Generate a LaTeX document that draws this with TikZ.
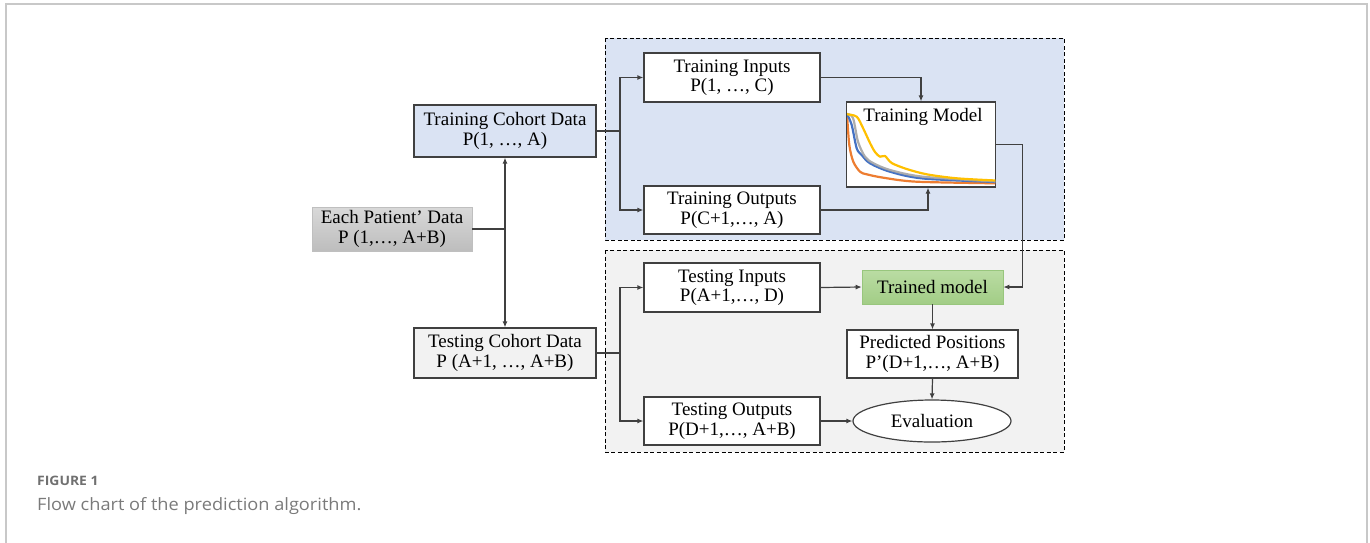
\documentclass[tikz,border=0pt]{standalone}
\usepackage{fontspec}
\setmainfont{Liberation Serif}
\newfontfamily\capfont[FakeStretch=1.07]{Open Sans}
\usetikzlibrary{arrows.meta,shapes.geometric,calc}

\definecolor{trainblue}{HTML}{DAE3F3}
\definecolor{testgray}{HTML}{F2F2F2}
\definecolor{edge}{HTML}{404040}
\definecolor{framegray}{HTML}{C8C8C8}
\definecolor{capgray}{HTML}{707070}
\definecolor{captextgray}{HTML}{7A7A7A}
\definecolor{greentop}{HTML}{BADCA3}
\definecolor{greenbottom}{HTML}{A2CD86}
\definecolor{greenedge}{HTML}{98C67D}
\definecolor{patienttop}{HTML}{D9D9D9}
\definecolor{patientbottom}{HTML}{BDBDBD}
\definecolor{curveyellow}{HTML}{FFC000}
\definecolor{curvegray}{HTML}{A5A5A5}
\definecolor{curveblue}{HTML}{4472C4}
\definecolor{curveorange}{HTML}{ED7D31}

\begin{document}
\begin{tikzpicture}[x=1pt,y=-1pt,
  boxtext/.style={font=\fontsize{19}{19.5}\selectfont, align=center, text=black, inner sep=0pt},
  box/.style={boxtext, draw=edge, line width=1.2pt, fill=white},
  conn/.style={draw=edge, line width=1.2pt},
  arr/.style={conn, -{Latex[length=6pt,width=5pt]}},
  region/.style={draw=black, line width=0.9pt, dash pattern=on 4pt off 2.5pt},
  curve/.style={line width=2.2pt, line join=round, line cap=round},
]
\useasboundingbox (0,0) rectangle (1370,542);

% outer frame
\draw[framegray, line width=1.6pt] (6,545) |- (1367,4) -- (1367,545);

% dashed regions
\path[region, fill=trainblue] (605,38) rectangle (1064,240);
\path[region, fill=testgray] (605,250) rectangle (1064,452);

% source and cohort boxes
\node[boxtext, minimum width=160pt, minimum height=44pt,
      top color=patienttop, bottom color=patientbottom, draw=gray!50, line width=0.6pt]
      (patient) at (392,229) {Each Patient’ Data\\P (1,…, A+B)};
\node[box, fill=trainblue, minimum width=182pt, minimum height=52pt]
      (traincohort) at (505,131) {Training Cohort Data\\P(1, …, A)};
\node[box, fill=testgray, minimum width=182pt, minimum height=50pt]
      (testcohort) at (505,353) {Testing Cohort Data\\P (A+1, …, A+B)};

% training branch
\node[box, minimum width=176pt, minimum height=49pt] (trainin) at (732,77.5) {Training Inputs\\P(1, …, C)};
\node[box, minimum width=176pt, minimum height=48pt] (trainout) at (732,210) {Training Outputs\\P(C+1,…, A)};
\node[box, minimum width=149.5pt, minimum height=85pt] (trainmodel) at (921,144.5) {};

% loss curves inside the training model box
\begin{scope}
  \clip (847.2,102.6) rectangle (995.3,186.4);
  \draw[curve, curveorange] plot[smooth, tension=0.5] coordinates {
    (847,114) (849.3,145) (853.3,161.7) (860,171.7) (866.7,174.3) (883.3,177.7) (916.7,181.7) (996,183.3)};
  \draw[curve, curveblue] plot[smooth, tension=0.5] coordinates {
    (847,114) (851.7,125) (856.7,148.3) (861.7,155) (870,163.3) (890,171.7) (923,178.5) (996,182)};
  \draw[curve, curvegray, opacity=0.9] plot[smooth, tension=0.5] coordinates {
    (847,114) (853,118) (858,141.7) (865,156.7) (873,163) (890,170) (923,176.7) (996,181.5)};
  \draw[curve, curveyellow] plot[smooth, tension=0.5] coordinates {
    (847,114.3) (856.7,116.7) (863,128) (870,143) (875,152) (880,156.7) (885,156) (891.7,163) (906.7,169) (926.7,174.3) (956.7,178.3) (996,180.5)};
\end{scope}
\node[boxtext] (trainmodeltitle) at (923,116.5) {Training Model};

% testing branch
\node[box, minimum width=176pt, minimum height=49pt] (testin) at (732,287.5) {Testing Inputs\\P(A+1,…, D)};
\node[box, minimum width=176pt, minimum height=48pt] (testout) at (732,421) {Testing Outputs\\P(D+1,…, A+B)};
\node[boxtext, minimum width=141pt, minimum height=34pt,
      top color=greentop, bottom color=greenbottom,
      draw=greenedge, line width=0.6pt] (trained) at (932.5,287) {Trained model};
\node[box, minimum width=171pt, minimum height=48pt] (predicted) at (932.5,354) {Predicted Positions\\P’(D+1,…, A+B)};
\node[boxtext, ellipse, draw=edge, line width=1.2pt, fill=white,
      minimum width=158pt, minimum height=42pt] (evaluation) at (932,421) {Evaluation};

% connectors from the patient data
\coordinate (split) at (505,229);
\draw[conn] (patient.east) -- (split);
\draw[arr] (split) -- (traincohort.south);
\draw[arr] (split) -- (testcohort.north);

% training connectors
\coordinate (trainfork) at (620,131);
\draw[conn] (traincohort.east) -- (trainfork);
\draw[arr] (trainfork) |- (trainin.west);
\draw[arr] (trainfork) |- (trainout.west);
\draw[arr] (trainin.east) -| (trainmodel.north);
\draw[arr] (trainout.east) -| ($(trainmodel.south)+(7,0)$);
\draw[arr] (trainmodel.east) -- ++(26,0) |- (trained.east);

% testing connectors
\coordinate (testfork) at (620,353);
\draw[conn] (testcohort.east) -- (testfork);
\draw[arr] (testfork) |- (testin.west);
\draw[arr] (testfork) |- (testout.west);
\draw[arr] (testin.east) -- (trained.west);
\draw[arr] (trained.south) -- (predicted.north);
\draw[arr] (predicted.south) -- (evaluation.north);
\draw[arr] (testout.east) -- (evaluation.west);

% caption
\node[anchor=base west, inner sep=0pt, text=capgray, font=\capfont\bfseries\fontsize{13}{15}\selectfont]
  (figlabel) at (37,485.5) {FIGURE 1};
\node[anchor=base west, inner sep=0pt, text=captextgray, font=\capfont\fontsize{17}{19}\selectfont]
  (figcaption) at (37,510) {Flow chart of the prediction algorithm.};
\end{tikzpicture}
\end{document}
